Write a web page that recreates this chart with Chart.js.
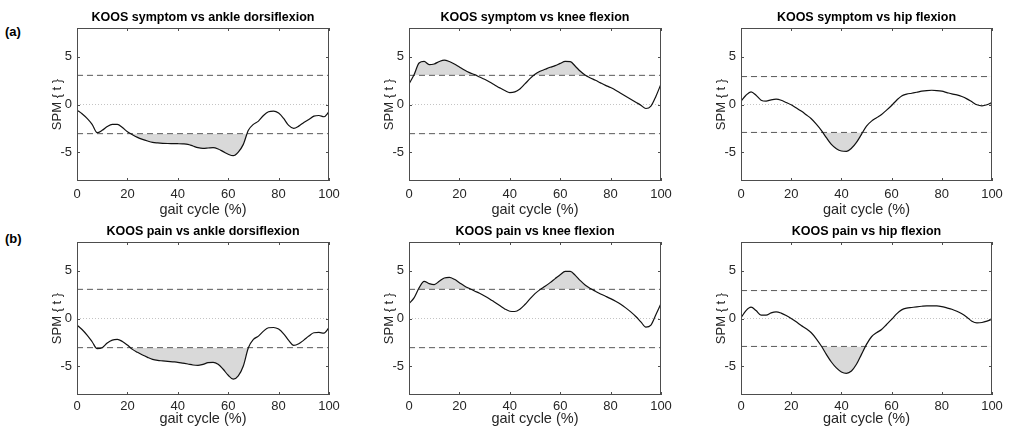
<!DOCTYPE html>
<html>
<head>
<meta charset="utf-8">
<script src="https://cdn.jsdelivr.net/npm/chart.js@4.4.1/dist/chart.umd.min.js"></script>
<style>
  body { margin: 0; background: #fff; width: 1009px; height: 430px; position: relative; overflow: hidden; font-family: "Liberation Sans", Arial, sans-serif; }
  canvas { position: absolute; }
  .tag { position: absolute; font-weight: bold; font-size: 13px; line-height: 15px; color: #000; }
</style>
</head>
<body>
<div class="tag" style="left:5px;top:24px">(a)</div>
<div class="tag" style="left:5px;top:231px">(b)</div>
<canvas id="p0"></canvas>
<canvas id="p1"></canvas>
<canvas id="p2"></canvas>
<canvas id="p3"></canvas>
<canvas id="p4"></canvas>
<canvas id="p5"></canvas>
<script>
// gait cycle samples (%)
const gait = [0,2,4,6,8,10,12,14,16,18,20,22,24,26,28,30,32,34,36,38,40,42,44,46,48,50,
  52,54,56,58,60,62,64,66,68,70,72,74,76,78,80,82,84,86,88,90,92,94,96,98,100];

const xTicks = [0, 20, 40, 60, 80, 100];
const yTicks = [-5, 0, 5];

const titles = [
  'KOOS symptom vs ankle dorsiflexion',
  'KOOS symptom vs knee flexion',
  'KOOS symptom vs hip flexion',
  'KOOS pain vs ankle dorsiflexion',
  'KOOS pain vs knee flexion',
  'KOOS pain vs hip flexion'
];

// critical thresholds (t*)
const thresholds = [3.05, 3.05, 2.92, 3.05, 3.05, 2.92];

const symptomAnkle = [-0.59,-0.97,-1.46,-2.08,-2.95,-2.7,-2.3,-2.08,-2.08,-2.4,-2.85,-3.16,-3.44,-3.65,-3.82,-3.96,
  -4.02,-4.06,-4.08,-4.09,-4.1,-4.12,-4.17,-4.34,-4.51,-4.58,-4.55,-4.51,-4.65,-4.93,-5.2,-5.35,-4.97,-4.17,-2.7,
  -2.08,-1.74,-1.15,-0.76,-0.69,-0.9,-1.46,-2.19,-2.5,-2.26,-1.88,-1.56,-1.22,-1.15,-1.28,-0.76];
const symptomKnee = [2.15,3.1,4.34,4.5,4.17,4.24,4.5,4.65,4.5,4.24,3.92,3.6,3.33,3.12,2.88,2.64,2.36,2.05,1.74,1.46,
  1.25,1.32,1.63,2.15,2.7,3.16,3.47,3.68,3.89,4.06,4.3,4.5,4.48,4.0,3.47,3.05,2.78,2.53,2.26,2.0,1.77,1.5,1.18,0.87,
  0.56,0.24,-0.07,-0.42,-0.17,0.87,2.15];
const symptomHip = [0.35,0.97,1.32,0.97,0.45,0.35,0.49,0.56,0.45,0.21,-0.03,-0.35,-0.69,-1.08,-1.49,-2.05,-2.7,-3.47,
  -4.17,-4.62,-4.86,-4.9,-4.58,-3.96,-3.12,-2.26,-1.74,-1.39,-1.04,-0.59,-0.1,0.45,0.9,1.08,1.18,1.28,1.39,1.46,1.49,
  1.46,1.39,1.25,1.11,1.0,0.83,0.59,0.28,-0.03,-0.14,-0.03,0.21];
const painAnkle = [-0.69,-1.15,-1.74,-2.43,-3.16,-3.06,-2.57,-2.26,-2.19,-2.4,-2.78,-3.23,-3.54,-3.82,-4.06,-4.27,
  -4.38,-4.43,-4.48,-4.53,-4.58,-4.67,-4.76,-4.86,-4.9,-4.79,-4.62,-4.58,-4.79,-5.31,-5.94,-6.35,-6.0,-4.97,-3.06,
  -2.19,-1.84,-1.32,-0.97,-0.94,-1.11,-1.6,-2.29,-2.81,-2.64,-2.26,-1.84,-1.49,-1.46,-1.53,-0.97];
const painKnee = [1.56,2.15,3.2,3.89,3.65,3.54,3.89,4.24,4.3,4.1,3.75,3.4,3.13,2.88,2.64,2.36,2.05,1.7,1.35,1.0,0.76,
  0.73,0.97,1.46,2.05,2.6,3.02,3.37,3.75,4.17,4.58,4.93,4.93,4.51,3.96,3.47,3.13,2.85,2.57,2.33,2.08,1.8,1.49,1.11,
  0.69,0.21,-0.35,-0.9,-0.69,0.42,1.56];
const painHip = [0.07,0.83,1.18,0.83,0.35,0.35,0.59,0.69,0.56,0.31,0,-0.35,-0.73,-1.08,-1.49,-2.12,-2.88,-3.75,-4.55,
  -5.17,-5.59,-5.73,-5.49,-4.79,-3.75,-2.71,-1.91,-1.49,-1.15,-0.63,-0.1,0.49,0.9,1.08,1.15,1.22,1.28,1.32,1.32,1.32,
  1.25,1.11,0.97,0.76,0.49,0.14,-0.28,-0.45,-0.42,-0.28,-0.07];

const series = [symptomAnkle, symptomKnee, symptomHip, painAnkle, painKnee, painHip];

// plot-area boxes in page pixels
const colLeft = [77, 409, 741];
const colWidth = [252, 252, 251];
const rowTop = [28, 242];
const plotHeight = 153;
const yAxisW = 30, titleBlock = 20, padRight = 18;
const xAxisH = [38, 33];
const xTickPad = [6, 4];

const ink = '#262626';
const shade = '#d9d9d9';

// box outline and inward tick marks, MATLAB style
const boxPlugin = {
  id: 'box',
  afterDatasetsDraw(chart) {
    const { ctx, chartArea: a, scales: { x, y } } = chart;
    ctx.save();
    ctx.strokeStyle = '#4d4d4d';
    ctx.lineWidth = 1;
    ctx.beginPath();
    xTicks.forEach(v => {
      const px = Math.round(x.getPixelForValue(v)) + 0.5;
      ctx.moveTo(px, a.bottom); ctx.lineTo(px, a.bottom - 3);
      ctx.moveTo(px, a.top); ctx.lineTo(px, a.top + 3);
    });
    yTicks.forEach(v => {
      const py = Math.round(y.getPixelForValue(v)) + 0.5;
      ctx.moveTo(a.left, py); ctx.lineTo(a.left + 3, py);
      ctx.moveTo(a.right, py); ctx.lineTo(a.right - 3, py);
    });
    ctx.stroke();
    ctx.strokeRect(Math.round(a.left) + 0.5, Math.round(a.top) + 0.5,
      Math.round(a.right - a.left) - 1, Math.round(a.bottom - a.top) - 1);
    ctx.restore();
  }
};

series.forEach((vals, i) => {
  const row = Math.floor(i / 3), col = i % 3;
  const thr = thresholds[i];
  const canvas = document.getElementById('p' + i);
  const w = yAxisW + colWidth[col] + padRight;
  const h = titleBlock + plotHeight + xAxisH[row];
  canvas.width = w; canvas.height = h;
  canvas.style.left = (colLeft[col] - yAxisW) + 'px';
  canvas.style.top = (rowTop[row] - titleBlock) + 'px';

  const pts = gait.map((g, k) => ({ x: g, y: vals[k] }));
  const hLine = v => [{ x: 0, y: v }, { x: 100, y: v }];

  new Chart(canvas.getContext('2d'), {
    type: 'line',
    data: {
      datasets: [
        { data: pts, borderColor: '#111', borderWidth: 1.2, pointRadius: 0, cubicInterpolationMode: 'monotone', fill: false },
        { data: hLine(thr), borderColor: '#5a5a5a', borderWidth: 1, borderDash: [6, 4], pointRadius: 0, fill: false },
        { data: hLine(-thr), borderColor: '#5a5a5a', borderWidth: 1, borderDash: [6, 4], pointRadius: 0, fill: false },
        { data: hLine(0), borderColor: '#c4c4c4', borderWidth: 1, borderDash: [1, 2], pointRadius: 0, fill: false },
        { data: pts, borderColor: 'rgba(0,0,0,0)', borderWidth: 0, pointRadius: 0, cubicInterpolationMode: 'monotone',
          fill: { target: { value: thr }, above: shade, below: 'rgba(0,0,0,0)' } },
        { data: pts, borderColor: 'rgba(0,0,0,0)', borderWidth: 0, pointRadius: 0, cubicInterpolationMode: 'monotone',
          fill: { target: { value: -thr }, above: 'rgba(0,0,0,0)', below: shade } }
      ]
    },
    options: {
      responsive: false,
      animation: false,
      devicePixelRatio: 1,
      layout: { padding: { left: 0, right: padRight, top: 0, bottom: 0 } },
      plugins: {
        legend: { display: false },
        tooltip: { enabled: false },
        title: {
          display: true,
          text: titles[i],
          fullSize: false,
          color: '#000',
          font: { family: 'Liberation Sans', size: 12.5, weight: 'bold', lineHeight: '16px' },
          padding: { top: 2, bottom: 2 }
        }
      },
      scales: {
        x: {
          type: 'linear',
          min: 0, max: 100,
          afterBuildTicks: s => { s.ticks = xTicks.map(v => ({ value: v })); },
          afterFit: s => { s.height = xAxisH[row]; },
          grid: { display: false, drawTicks: false },
          border: { display: false },
          ticks: { color: ink, padding: xTickPad[row], maxRotation: 0, font: { family: 'Liberation Sans', size: 13 } },
          title: { display: true, text: 'gait cycle (%)', color: ink, padding: 0,
                   font: { family: 'Liberation Sans', size: 14.5 } }
        },
        y: {
          min: -8, max: 8,
          afterBuildTicks: s => { s.ticks = yTicks.map(v => ({ value: v })); },
          afterFit: s => { s.width = yAxisW; },
          grid: { display: false, drawTicks: false },
          border: { display: false },
          ticks: { color: ink, padding: 5, font: { family: 'Liberation Sans', size: 13 } },
          title: { display: true, text: 'SPM { t }', color: ink, padding: { top: 3, bottom: 0 },
                   font: { family: 'Liberation Sans', size: 13 } }
        }
      }
    },
    plugins: [boxPlugin]
  });
});
</script>
</body>
</html>
